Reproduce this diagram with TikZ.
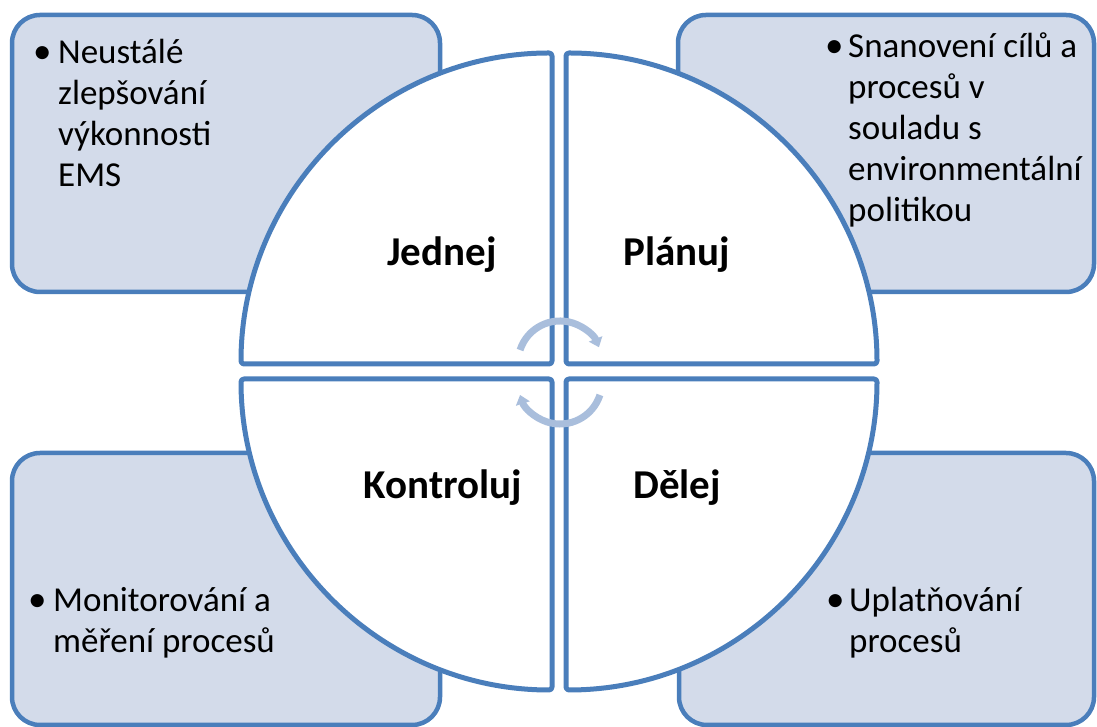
\documentclass[tikz,border=0pt]{standalone}
\usepackage{fontspec}
\setmainfont{Carlito}
\usetikzlibrary{arrows.meta}
\definecolor{edgeblue}{HTML}{4A7EBB}
\definecolor{boxfill}{HTML}{D3DBEA}
\definecolor{arrowblue}{HTML}{A9BEDC}
\tikzset{
  infobox/.style={draw=edgeblue, line width=4.5pt, fill=boxfill, rounded corners=28pt},
  quadrant/.style={draw=edgeblue, line width=5pt, fill=white, rounded corners=3pt, line join=round},
  cyclearrow/.style={draw=arrowblue, line width=7pt, -{Triangle[width=14pt,length=9pt]}},
  label/.style={font=\fontsize{41}{48}\selectfont\bfseries, inner sep=0pt, anchor=base},
  bullettext/.style={font=\fontsize{35}{41}\selectfont, inner sep=0pt, anchor=base west, align=left},
  bulletmark/.style={font=\fontsize{37}{41}\selectfont, inner sep=0pt, anchor=base west}
}
\begin{document}
\begin{tikzpicture}[x=1pt,y=1pt]
\useasboundingbox (0,0) rectangle (1097,727);
% side boxes
\draw[infobox] (12,435) rectangle (440,712);
\draw[infobox] (678,435) rectangle (1094,712);
\draw[infobox] (12,2) rectangle (440,274);
\draw[infobox] (679,2) rectangle (1094,274);
% quadrants
\draw[quadrant] (552,363) -- (241,363) arc[start angle=180, end angle=90, radius=311] -- cycle;
\draw[quadrant] (566,363) -- (566,674) arc[start angle=90, end angle=0, radius=311] -- cycle;
\draw[quadrant] (552,348) -- (241,348) arc[start angle=180, end angle=270, radius=311] -- cycle;
\draw[quadrant] (566,348) -- (877,348) arc[start angle=0, end angle=-90, radius=311] -- cycle;
% cycle arrows
\draw[cyclearrow] (560,364) ++(162:42) arc[start angle=162, end angle=22, radius=42];
\draw[cyclearrow] (560,345) ++(-18:42) arc[start angle=-18, end angle=-162, radius=42];
% labels
\node[label] (jednej) at (442,461) {Jednej};
\node[label] (planuj) at (677,461) {Plánuj};
\node[label] (kontroluj) at (443,228) {Kontroluj};
\node[label] (delej) at (677,228) {Dělej};
% bullet texts (anchored at the baseline of the last line)
\node[bulletmark] (b1) at (33,663) {\textbullet};
\node[bullettext] (t1) at (58,540) {Neustálé\\zlepšování\\výkonnosti\\EMS};
\node[bulletmark] (b2) at (825,669) {\textbullet};
\node[bullettext] (t2) at (848,505) {Snanovení cílů a\\procesů v\\souladu s\\environmentální\\politikou};
\node[bulletmark] (b3) at (28,115) {\textbullet};
\node[bullettext] (t3) at (53,74) {Monitorování a\\měření procesů};
\node[bulletmark] (b4) at (826,115) {\textbullet};
\node[bullettext] (t4) at (849,74) {Uplatňování\\procesů};
\end{tikzpicture}
\end{document}
